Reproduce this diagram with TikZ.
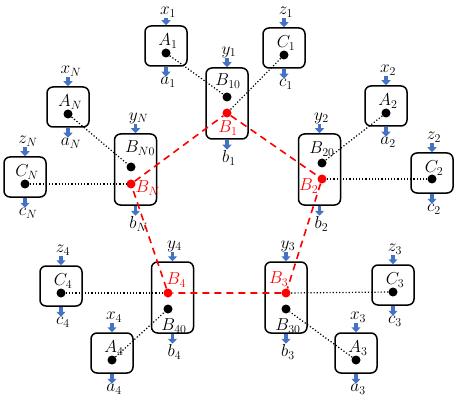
\documentclass[tikz,border=0pt]{standalone}
\usetikzlibrary{positioning,arrows.meta}
\definecolor{iob}{RGB}{68,114,196}
\tikzset{box/.style = {draw, rounded corners=6pt, line width=1.5pt, fill=white,
                       minimum width=42pt, minimum height=40pt, inner sep=0pt},
         tallbox/.style = {box, minimum height=71pt},
         dot/.style = {circle, fill=black, minimum size=9pt, inner sep=0pt},
         rdot/.style = {dot, fill=red},
         lab/.style = {inner sep=0.5pt, font=\LARGE},
         rlab/.style = {lab, text=red},
         io/.style = {-{Triangle[width=9pt,length=5pt]}, line width=3.5pt, draw=iob},
         link/.style = {line width=1.2pt, dotted},
         ring/.style = {red, line width=1.6pt, dash pattern=on 7pt off 5pt}}

\begin{document}
\begin{tikzpicture}[x=1pt,y=-1pt]
    \useasboundingbox (0,0) rectangle (458,401);

    % boxes
    \node[box](A1) at (166,46){};
    \node[box](C1) at (284,48){};
    \node[tallbox](B1) at (227,103.5){};
    \node[box](AN) at (68,107){};
    \node[box](CN) at (25,177){};
    \node[tallbox](BN) at (135.5,169.5){};
    \node[box](A2) at (386,106){};
    \node[box](C2) at (432,173){};
    \node[tallbox](B2) at (319.5,169.5){};
    \node[box](C4) at (61,286){};
    \node[box](A4) at (112,353){};
    \node[tallbox](B4) at (172.5,297.5){};
    \node[box](C3) at (393,285){};
    \node[box](A3) at (356,353){};
    \node[tallbox](B3) at (286,297.5){};

    % inputs and outputs
    \node[lab, above=7pt of A1, xshift=2pt](x1){$x_1$};
    \node[lab, below=10pt of A1, xshift=2pt](a1){$a_1$};
    \node[lab, above=9pt of C1, xshift=2pt](z1){$z_1$};
    \node[lab, below=10pt of C1, xshift=2pt](c1){$c_1$};
    \node[lab, above=9pt of B1, xshift=2pt](y1){$y_1$};
    \node[lab, below=10pt of B1, xshift=2pt](b1){$b_1$};
    \node[lab, above=9pt of AN, xshift=3pt](xN){$x_N$};
    \node[lab, below=10pt of AN, xshift=3pt](aN){$a_N$};
    \node[lab, above=9pt of CN, xshift=3pt](zN){$z_N$};
    \node[lab, below=10pt of CN, xshift=3pt](cN){$c_N$};
    \node[lab, above=9pt of BN, xshift=3pt](yN){$y_N$};
    \node[lab, below=10pt of BN, xshift=3pt](bN){$b_N$};
    \node[lab, above=9pt of A2, xshift=2pt](x2){$x_2$};
    \node[lab, below=10pt of A2, xshift=2pt](a2){$a_2$};
    \node[lab, above=9pt of C2, xshift=2pt](z2){$z_2$};
    \node[lab, below=10pt of C2, xshift=2pt](c2){$c_2$};
    \node[lab, above=9pt of B2, xshift=2pt](y2){$y_2$};
    \node[lab, below=10pt of B2, xshift=2pt](b2){$b_2$};
    \node[lab, above=9pt of C4, xshift=2pt](z4){$z_4$};
    \node[lab, below=10pt of C4, xshift=2pt](c4){$c_4$};
    \node[lab, above=9pt of A4, xshift=2pt](x4){$x_4$};
    \node[lab, below=10pt of A4, xshift=2pt](a4){$a_4$};
    \node[lab, above=9pt of B4, xshift=2pt](y4){$y_4$};
    \node[lab, below=10pt of B4, xshift=2pt](b4){$b_4$};
    \node[lab, above=9pt of C3, xshift=2pt](z3){$z_3$};
    \node[lab, below=10pt of C3, xshift=2pt](c3){$c_3$};
    \node[lab, above=9pt of A3, xshift=2pt](x3){$x_3$};
    \node[lab, below=10pt of A3, xshift=2pt](a3){$a_3$};
    \node[lab, above=9pt of B3, xshift=2pt](y3){$y_3$};
    \node[lab, below=10pt of B3, xshift=2pt](b3){$b_3$};

    \draw[io](x1.south -| A1.north)--(A1.north);
    \draw[io](A1.south)--(a1.north -| A1.south);
    \draw[io](z1.south -| C1.north)--(C1.north);
    \draw[io](C1.south)--(c1.north -| C1.south);
    \draw[io](y1.south -| B1.north)--(B1.north);
    \draw[io](B1.south)--(b1.north -| B1.south);
    \draw[io](xN.south -| AN.north)--(AN.north);
    \draw[io](AN.south)--(aN.north -| AN.south);
    \draw[io](zN.south -| CN.north)--(CN.north);
    \draw[io](CN.south)--(cN.north -| CN.south);
    \draw[io](yN.south -| BN.north)--(BN.north);
    \draw[io](BN.south)--(bN.north -| BN.south);
    \draw[io](x2.south -| A2.north)--(A2.north);
    \draw[io](A2.south)--(a2.north -| A2.south);
    \draw[io](z2.south -| C2.north)--(C2.north);
    \draw[io](C2.south)--(c2.north -| C2.south);
    \draw[io](y2.south -| B2.north)--(B2.north);
    \draw[io](B2.south)--(b2.north -| B2.south);
    \draw[io](z4.south -| C4.north)--(C4.north);
    \draw[io](C4.south)--(c4.north -| C4.south);
    \draw[io](x4.south -| A4.north)--(A4.north);
    \draw[io](A4.south)--(a4.north -| A4.south);
    \draw[io](y4.south -| B4.north)--(B4.north);
    \draw[io](B4.south)--(b4.north -| B4.south);
    \draw[io](z3.south -| C3.north)--(C3.north);
    \draw[io](C3.south)--(c3.north -| C3.south);
    \draw[io](x3.south -| A3.north)--(A3.north);
    \draw[io](A3.south)--(a3.north -| A3.south);
    \draw[io](y3.south -| B3.north)--(B3.north);
    \draw[io](B3.south)--(b3.north -| B3.south);

    % box names
    \node[lab] at (168,41){$A_1$};
    \node[lab] at (286,43){$C_1$};
    \node[lab] at (70,102){$A_N$};
    \node[lab] at (27,172){$C_N$};
    \node[lab] at (388,101){$A_2$};
    \node[lab] at (434,168){$C_2$};
    \node[lab] at (63,281){$C_4$};
    \node[lab] at (114,348){$A_4$};
    \node[lab] at (395,280){$C_3$};
    \node[lab] at (358,348){$A_3$};
    \node[lab] at (228,81){$B_{10}$};
    \node[lab] at (140,148){$B_{N0}$};
    \node[lab] at (322,149){$B_{20}$};
    \node[lab] at (174,326){$B_{40}$};
    \node[lab] at (288,326){$B_{30}$};
    \node[rlab] at (228,128){$B_1$};
    \node[rlab, anchor=west] at (135,188){$B_N$};
    \node[rlab, anchor=east] at (319,186){$B_2$};
    \node[rlab, anchor=west] at (166,280){$B_4$};
    \node[rlab, anchor=east] at (289,279){$B_3$};

    % dots
    \node[dot](dA1) at (166,53){};
    \node[dot](dC1) at (284,55){};
    \node[dot](dAN) at (68,114){};
    \node[dot](dCN) at (25,184){};
    \node[dot](dA2) at (386,113){};
    \node[dot](dC2) at (432,179){};
    \node[dot](dC4) at (61,293){};
    \node[dot](dA4) at (112,360){};
    \node[dot](dC3) at (393,292){};
    \node[dot](dA3) at (356,360){};
    \node[dot](dB10) at (227,97){};
    \node[dot](dBN0) at (131,167){};
    \node[dot](dB20) at (322,163){};
    \node[dot](dB40) at (168,309){};
    \node[dot](dB30) at (286,309){};
    \node[rdot](rB1) at (227,113){};
    \node[rdot](rBN) at (131,184){};
    \node[rdot](rB2) at (322,179){};
    \node[rdot](rB4) at (168,293){};
    \node[rdot](rB3) at (286,293){};

    % couplings
    \draw[link](dA1)--(dB10);
    \draw[link](dC1)--(rB1);
    \draw[link](dAN)--(dBN0);
    \draw[link](dCN)--(rBN);
    \draw[link](dA2)--(dB20);
    \draw[link](dC2)--(rB2);
    \draw[link](dA4)--(dB40);
    \draw[link](dC4)--(rB4);
    \draw[link](dA3)--(dB30);
    \draw[link](dC3)--(rB3);

    \draw[ring](rB1)--(rB2)--(rB3)--(rB4)--(rBN)--(rB1);
\end{tikzpicture}
\end{document}
